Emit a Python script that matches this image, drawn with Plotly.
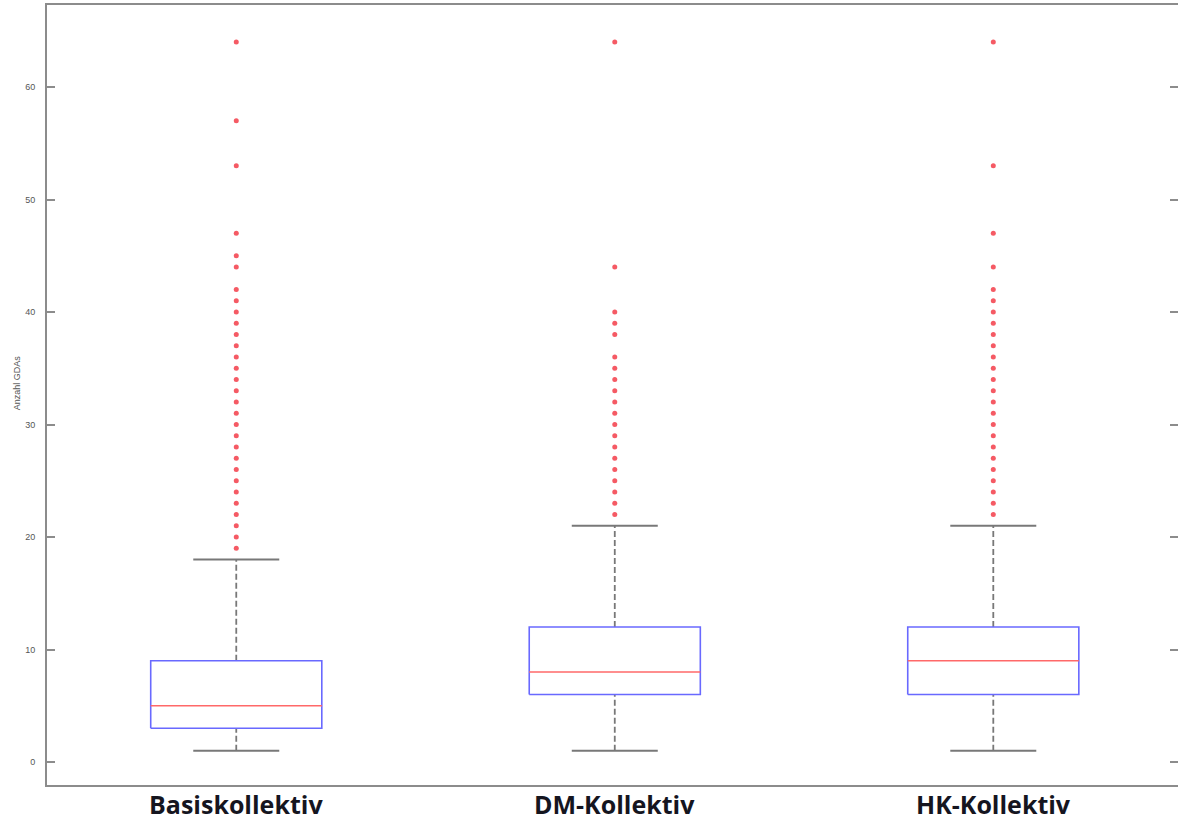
import plotly.graph_objects as go

categories = ["Basiskollektiv", "DM-Kollektiv", "HK-Kollektiv"]
lower_whisker = [1, 1, 1]
q1 = [3, 6, 6]
median = [5, 8, 9]
q3 = [9, 12, 12]
upper_whisker = [18, 21, 21]
outliers = [
    [64, 57, 53, 47, 45, 44, 42, 41, 40, 39, 38, 37, 36, 35, 34, 33, 32, 31, 30,
     29, 28, 27, 26, 25, 24, 23, 22, 21, 20, 19],
    [64, 44, 40, 39, 38, 36, 35, 34, 33, 32, 31, 30, 29, 28, 27, 26, 25, 24, 23, 22],
    [64, 53, 47, 44, 42, 41, 40, 39, 38, 37, 36, 35, 34, 33, 32, 31, 30, 29, 28,
     27, 26, 25, 24, 23, 22],
]
y_ticks = [0, 10, 20, 30, 40, 50, 60]

BOX_HW = 0.226
CAP_HW = 0.1136
BLUE = "rgb(105,105,255)"
RED = "rgb(255,105,105)"
GRAY = "rgb(120,120,120)"

fig = go.Figure()
for i, name in enumerate(categories):
    x0 = i + 1
    fig.add_trace(go.Scatter(
        x=[x0, x0, None, x0, x0],
        y=[lower_whisker[i], q1[i], None, q3[i], upper_whisker[i]],
        mode="lines", line=dict(color=GRAY, width=1.8, dash="6px,3px"),
        hoverinfo="skip", showlegend=False))
    fig.add_trace(go.Scatter(
        x=[x0 - CAP_HW, x0 + CAP_HW, None, x0 - CAP_HW, x0 + CAP_HW],
        y=[lower_whisker[i], lower_whisker[i], None, upper_whisker[i], upper_whisker[i]],
        mode="lines", line=dict(color=GRAY, width=2),
        hoverinfo="skip", showlegend=False))
    fig.add_trace(go.Scatter(
        x=[x0 - BOX_HW, x0 + BOX_HW, x0 + BOX_HW, x0 - BOX_HW, x0 - BOX_HW],
        y=[q1[i], q1[i], q3[i], q3[i], q1[i]],
        mode="lines", line=dict(color=BLUE, width=1.6),
        hoverinfo="skip", showlegend=False))
    fig.add_trace(go.Scatter(
        x=[x0 - BOX_HW, x0 + BOX_HW], y=[median[i], median[i]],
        mode="lines", line=dict(color=RED, width=1.6),
        hoverinfo="skip", showlegend=False))
    fig.add_trace(go.Scatter(
        x=[x0] * len(outliers[i]), y=outliers[i],
        mode="markers", marker=dict(color="rgb(245,90,100)", size=5, symbol="circle"),
        name=name, showlegend=False))

fig.add_trace(go.Scatter(x=[1], y=[0], yaxis="y2", mode="markers",
                         marker=dict(opacity=0), hoverinfo="skip", showlegend=False))

annotations = [dict(
    text="Anzahl GDAs", textangle=-90, xref="paper", yref="paper",
    x=-0.0265, y=0.515, xanchor="center", yanchor="middle", showarrow=False,
    font=dict(family="Liberation Sans", size=9, color="#555"))]
for i, name in enumerate(categories):
    annotations.append(dict(
        text="<b>%s</b>" % name, x=i + 1, xref="x", y=0, yref="paper",
        xanchor="center", yanchor="bottom", yshift=-37, showarrow=False,
        borderpad=0, font=dict(family="Open Sans", size=25, color="#15151f")))

yr = [-2.04, 67.29]
fig.update_layout(
    width=1178, height=823,
    margin=dict(l=47, r=0, t=5, b=38),
    paper_bgcolor="white", plot_bgcolor="white",
    showlegend=False,
    xaxis=dict(
        range=[0.5, 3.488], tickvals=[1, 2, 3], showticklabels=False,
        showgrid=False, zeroline=False, showline=True, mirror=True,
        linecolor="rgb(140,140,140)", linewidth=2, ticks="", automargin=False),
    yaxis=dict(
        range=yr, tickvals=y_ticks, showgrid=False, zeroline=False,
        showline=True, linecolor="rgb(140,140,140)", linewidth=2,
        ticks="inside", ticklen=8, tickcolor="rgb(140,140,140)", tickwidth=1.5,
        tickfont=dict(family="Liberation Sans", size=9, color="#555"),
        ticklabelstandoff=8, automargin=False),
    yaxis2=dict(
        range=yr, overlaying="y", side="right", tickvals=y_ticks,
        showgrid=False, zeroline=False, showline=False,
        ticks="inside", ticklen=8, tickcolor="rgb(140,140,140)", tickwidth=1.5,
        showticklabels=False, automargin=False),
    annotations=annotations,
)

fig.write_html("out.html")
